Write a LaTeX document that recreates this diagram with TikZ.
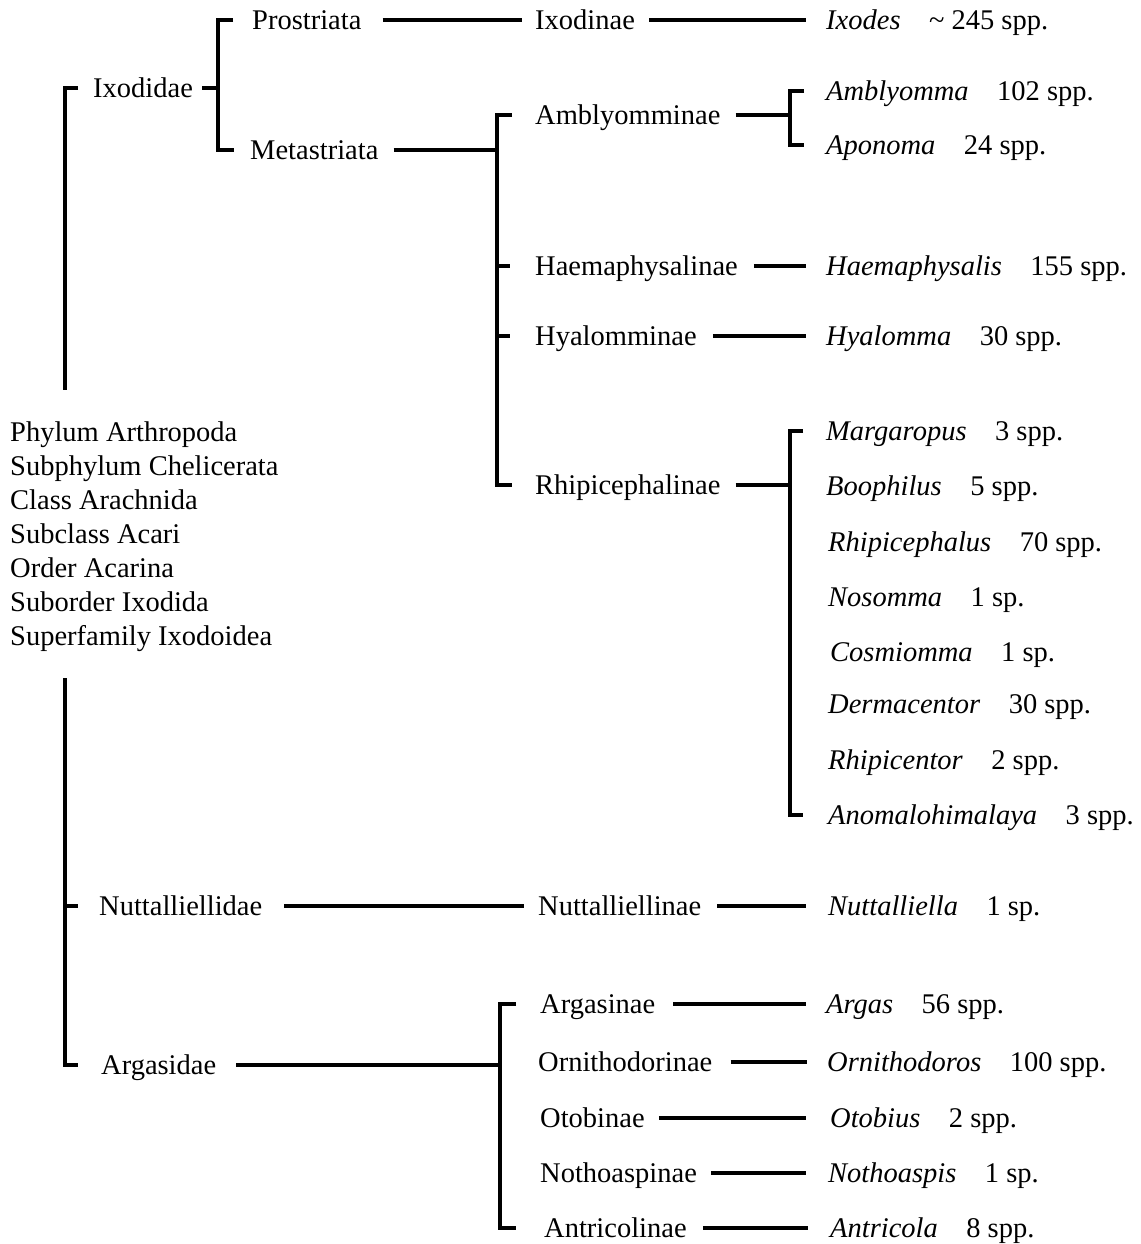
\documentclass[tikz,border=0pt]{standalone}
\usepackage{fontspec}
\setmainfont{Liberation Serif}
\usepackage{xcolor}
\usepackage{tikz}
\definecolor{treeink}{HTML}{000000}

\begin{document}
\begin{tikzpicture}[
  x=1pt,y=-1pt,
  font=\fontsize{28.5}{34}\selectfont,
  taxon/.style={anchor=west,inner sep=0pt,text=treeink,text height=19pt,text depth=0pt},
  spine/.style={draw=treeink,line width=3.3pt},
  stem/.style={spine,shorten <=15pt},
  link/.style={spine,shorten <=16pt,shorten >=20pt},
  tolink/.style={link,shorten >=14pt}
]
  \useasboundingbox (0,0) rectangle (1140,1244);

  \node[anchor=north west,align=left,inner sep=0pt,text=treeink] (ranks) at (10,422)
    {Phylum Arthropoda\\Subphylum Chelicerata\\Class Arachnida\\Subclass Acari\\
     Order Acarina\\Suborder Ixodida\\Superfamily Ixodoidea};

  \node[taxon] (ixodidae) at (93,88) {Ixodidae};
  \node[taxon] (nuttidae) at (99,906) {Nuttalliellidae};
  \node[taxon] (argasidae) at (101,1065) {Argasidae};
  \node[taxon] (prost) at (252,20) {Prostriata};
  \node[taxon] (meta) at (250,150) {Metastriata};

  \node[taxon] (ixodinae) at (535,20) {Ixodinae};
  \node[taxon] (amblyinae) at (535,115) {Amblyomminae};
  \node[taxon] (haemainae) at (535,266) {Haemaphysalinae};
  \node[taxon] (hyalinae) at (535,336) {Hyalomminae};
  \node[taxon] (rhipinae) at (535,485) {Rhipicephalinae};
  \node[taxon] (nuttinae) at (538,906) {Nuttalliellinae};
  \node[taxon] (argasinae) at (540,1004) {Argasinae};
  \node[taxon] (ornithinae) at (538,1062) {Ornithodorinae};
  \node[taxon] (otobinae) at (540,1118) {Otobinae};
  \node[taxon] (nothoinae) at (540,1173) {Nothoaspinae};
  \node[taxon] (antrinae) at (544,1228) {Antricolinae};

  \node[taxon] (ixodes) at (826,20) {\textit{Ixodes}\quad\textasciitilde\ 245 spp.};
  \node[taxon] (amblyomma) at (826,91) {\textit{Amblyomma}\quad 102 spp.};
  \node[taxon] (aponoma) at (826,145) {\textit{Aponoma}\quad 24 spp.};
  \node[taxon] (haemaphysalis) at (826,266) {\textit{Haemaphysalis}\quad 155 spp.};
  \node[taxon] (hyalomma) at (826,336) {\textit{Hyalomma}\quad 30 spp.};
  \node[taxon] (margaropus) at (826,431) {\textit{Margaropus}\quad 3 spp.};
  \node[taxon] (boophilus) at (826,486) {\textit{Boophilus}\quad 5 spp.};
  \node[taxon] (rhipicephalus) at (828,542) {\textit{Rhipicephalus}\quad 70 spp.};
  \node[taxon] (nosomma) at (828,597) {\textit{Nosomma}\quad 1 sp.};
  \node[taxon] (cosmiomma) at (830,652) {\textit{Cosmiomma}\quad 1 sp.};
  \node[taxon] (dermacentor) at (828,704) {\textit{Dermacentor}\quad 30 spp.};
  \node[taxon] (rhipicentor) at (828,760) {\textit{Rhipicentor}\quad 2 spp.};
  \node[taxon] (anomalo) at (828,815) {\textit{Anomalohimalaya}\quad 3 spp.};
  \node[taxon] (nuttalliella) at (828,906) {\textit{Nuttalliella}\quad 1 sp.};
  \node[taxon] (argas) at (826,1004) {\textit{Argas}\quad 56 spp.};
  \node[taxon] (ornithodoros) at (827,1062) {\textit{Ornithodoros}\quad 100 spp.};
  \node[taxon] (otobius) at (830,1118) {\textit{Otobius}\quad 2 spp.};
  \node[taxon] (nothoaspis) at (828,1173) {\textit{Nothoaspis}\quad 1 sp.};
  \node[taxon] (antricola) at (830,1228) {\textit{Antricola}\quad 8 spp.};

  \coordinate (gapA) at (65,390);
  \coordinate (gapB) at (65,678);
  \coordinate (spineA) at (218,0);
  \coordinate (spineM) at (497,0);
  \coordinate (spineG) at (500,0);
  \coordinate (spineR) at (790,0);

  \draw[spine] ([xshift=13pt]gapA |- ixodidae.west) -| (gapA);
  \draw[spine] (gapB) |- ([xshift=13pt]gapB |- argasidae.west);
  \draw[spine] (gapB |- nuttidae.west) -- ++(13pt,0);

  \draw[stem,shorten <=9pt] (ixodidae) -- (spineA |- ixodidae.west);
  \draw[spine] ([xshift=15pt]spineA |- prost.west) -| (spineA |- meta.west) -- ++(16pt,0);

  \draw[link,shorten <=21pt,shorten >=13pt] (prost) -- (ixodinae);
  \draw[link,shorten <=14pt] (ixodinae) -- (ixodes);

  \draw[stem] (meta) -- (spineM |- meta.west);
  \draw[spine] ([xshift=15pt]spineM |- amblyinae.west) -| (spineM |- rhipinae.west) -- ++(15pt,0);
  \draw[spine] (spineM |- haemainae.west) -- ++(13pt,0);
  \draw[spine] (spineM |- hyalinae.west) -- ++(13pt,0);

  \draw[stem] (amblyinae) -- (spineR |- amblyinae.west);
  \draw[spine] ([xshift=14pt]spineR |- amblyomma.west) -| (spineR |- aponoma.west) -- ++(14pt,0);
  \draw[link] (haemainae) -- (haemaphysalis);
  \draw[link] (hyalinae) -- (hyalomma);
  \draw[stem] (rhipinae) -- (spineR |- rhipinae.west);
  \draw[spine] ([xshift=13pt]spineR |- margaropus.west) -| (spineR |- anomalo.west) -- ++(13pt,0);

  \draw[tolink,shorten <=22pt] (nuttidae) -- (nuttinae);
  \draw[link,shorten >=22pt] (nuttinae) -- (nuttalliella);

  \draw[stem,shorten <=20pt] (argasidae) -- (spineG |- argasidae.west);
  \draw[spine] ([xshift=16pt]spineG |- argasinae.west) -| (spineG |- antrinae.west) -- ++(16pt,0);
  \draw[link,shorten <=18pt] (argasinae) -- (argas);
  \draw[link,shorten <=18pt] (ornithinae) -- (ornithodoros);
  \draw[link,shorten <=14pt,shorten >=24pt] (otobinae) -- (otobius);
  \draw[link,shorten <=14pt,shorten >=22pt] (nothoinae) -- (nothoaspis);
  \draw[link,shorten >=22pt] (antrinae) -- (antricola);
\end{tikzpicture}
\end{document}
